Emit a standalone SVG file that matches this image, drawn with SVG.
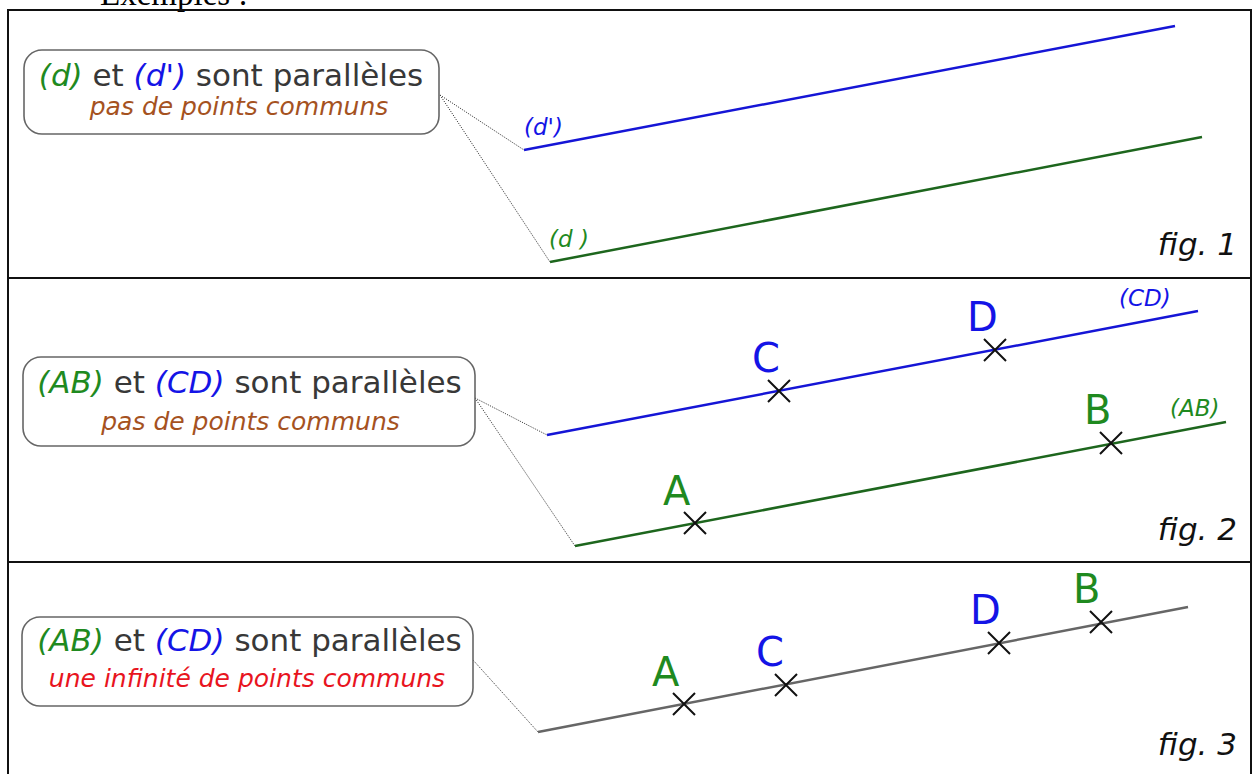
<svg xmlns="http://www.w3.org/2000/svg" width="1254" height="774" viewBox="0 0 1254 774">
<style>
text{font-family:"DejaVu Sans","Noto Sans",sans-serif}
.box{fill:#fff;stroke:#666;stroke-width:1.6}
.t1{font-size:31px;fill:#383838}
.t2{font-size:25px;font-style:italic}
.g{fill:#1f8a1f;font-style:italic}
.b{fill:#1414e6;font-style:italic}
.brown{fill:#a5521f}
.red{fill:#e8141e}
.dot{stroke:#444;stroke-width:1;stroke-dasharray:1.2 1.2;fill:none}
.lb{stroke:#1515d6;stroke-width:2.5;fill:none}
.lg{stroke:#1d661d;stroke-width:2.5;fill:none}
.lgr{stroke:#666;stroke-width:2.5;fill:none}
.x{stroke:#111;stroke-width:2;fill:none}
.pt{font-size:40px}
.pg{fill:#1f8a1f}
.pb{fill:#1414e6}
.sl{font-size:23px;font-style:italic}
.fig{font-size:31px;font-style:italic;fill:#111}
.frame{stroke:#111;stroke-width:2;fill:none}
</style>
<defs>
<path id="cross" d="M-11,-11 L11,11 M-11,11 L11,-11"/>
</defs>
<rect width="1254" height="774" fill="#fff"/>
<text x="100" y="5" style="font-family:'Liberation Serif',serif;font-size:33px;fill:#000">Exemples :</text>
<g id="frame">
<path class="frame" d="M8,774 V10 H1251 V774"/>
<line class="frame" x1="8" y1="278" x2="1251" y2="278"/>
<line class="frame" x1="8" y1="562" x2="1251" y2="562"/>
</g>
<g id="connectors">
<path class="dot" d="M440,95 L524,150"/>
<path class="dot" d="M440,95 L550,262"/>
<path class="dot" d="M475,398 L547,435"/>
<path class="dot" d="M475,398 L575,546"/>
<path class="dot" d="M473,660 L538,732"/>
</g>
<g id="box1">
<rect class="box" x="24" y="50" width="415" height="84" rx="18"/>
<text class="t1" x="231" y="86" text-anchor="middle"><tspan class="g">(d)</tspan> et <tspan class="b">(d')</tspan> sont parallèles</text>
<text class="t2 brown" x="239" y="115" text-anchor="middle">pas de points communs</text>
</g>
<g id="fig1">
<line class="lb" x1="524" y1="150" x2="1175" y2="26"/>
<line class="lg" x1="550" y1="262" x2="1202" y2="137"/>
<text class="sl b" x="524" y="135">(d')</text>
<text class="sl g" x="549" y="247">(d )</text>
<text class="fig" x="1237" y="255" text-anchor="end">fig. 1</text>
</g>
<g id="box2">
<rect class="box" x="23" y="357" width="452" height="89" rx="18"/>
<text class="t1" x="249.5" y="393" text-anchor="middle"><tspan class="g">(AB)</tspan> et <tspan class="b">(CD)</tspan> sont parallèles</text>
<text class="t2 brown" x="250.5" y="430" text-anchor="middle">pas de points communs</text>
</g>
<g id="fig2">
<line class="lb" x1="547" y1="435" x2="1198" y2="311"/>
<line class="lg" x1="575" y1="546" x2="1226" y2="422"/>
<use href="#cross" class="x" x="779" y="391"/>
<use href="#cross" class="x" x="995" y="350"/>
<use href="#cross" class="x" x="695" y="523"/>
<use href="#cross" class="x" x="1111" y="443"/>
<text class="pt pb" x="752" y="372">C</text>
<text class="pt pb" x="967" y="331">D</text>
<text class="pt pg" x="663" y="505">A</text>
<text class="pt pg" x="1084" y="424">B</text>
<text class="sl b" x="1119" y="306">(CD)</text>
<text class="sl g" x="1170" y="416">(AB)</text>
<text class="fig" x="1237" y="540" text-anchor="end">fig. 2</text>
</g>
<g id="box3">
<rect class="box" x="22" y="617" width="451" height="89" rx="18"/>
<text class="t1" x="249.5" y="651" text-anchor="middle"><tspan class="g">(AB)</tspan> et <tspan class="b">(CD)</tspan> sont parallèles</text>
<text class="t2 red" x="247" y="687" text-anchor="middle">une infinité de points communs</text>
</g>
<g id="fig3">
<line class="lgr" x1="538" y1="732" x2="1188" y2="607"/>
<use href="#cross" class="x" x="684" y="704"/>
<use href="#cross" class="x" x="786" y="685"/>
<use href="#cross" class="x" x="999" y="643"/>
<use href="#cross" class="x" x="1101" y="622"/>
<text class="pt pg" x="652" y="686">A</text>
<text class="pt pb" x="756" y="666">C</text>
<text class="pt pb" x="970" y="624">D</text>
<text class="pt pg" x="1073" y="603">B</text>
<text class="fig" x="1237" y="755" text-anchor="end">fig. 3</text>
</g>
</svg>
